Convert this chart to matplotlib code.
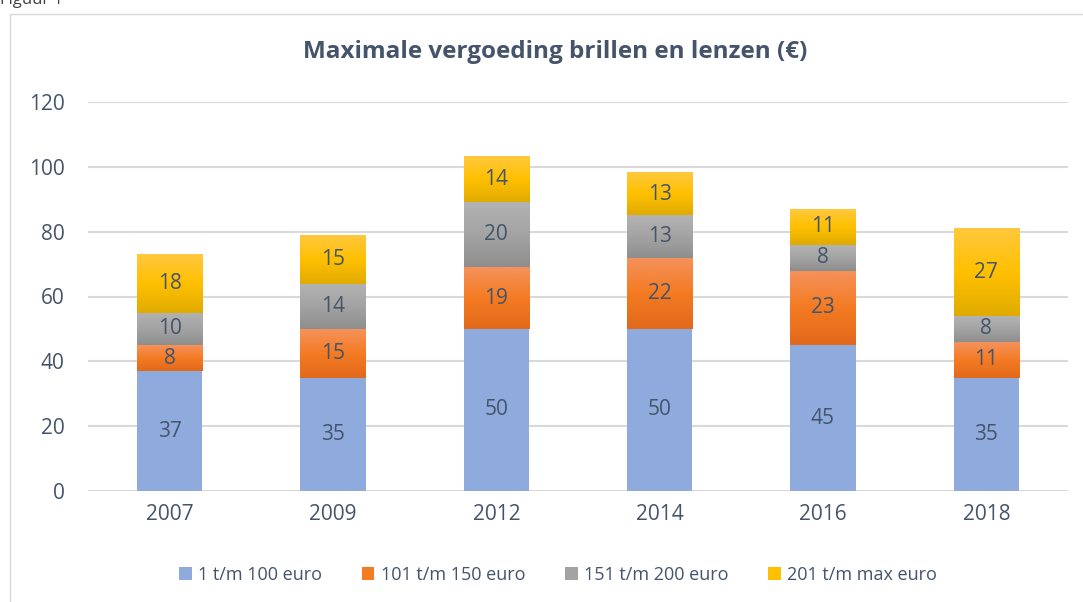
import numpy as np
import matplotlib

matplotlib.use("Agg")
import matplotlib.pyplot as plt
from matplotlib.colors import LinearSegmentedColormap
from matplotlib.patches import Rectangle

plt.rcParams["font.family"] = ["Open Sans", "DejaVu Sans"]

years = ["2007", "2009", "2012", "2014", "2016", "2018"]
series_names = ["1 t/m 100 euro", "101 t/m 150 euro", "151 t/m 200 euro", "201 t/m max euro"]
s1 = [37, 35, 50, 50, 45, 35]
s2 = [8, 15, 19, 22, 23, 11]
s3 = [10, 14, 20, 13, 8, 8]
s4 = [18, 15, 14, 13, 11, 27]
yticks = [0, 20, 40, 60, 80, 100, 120]

# gradient stops (top -> bottom); a single colour means a flat fill
fills = [
    ["#8FAADC"],
    ["#F4925C", "#F47B22", "#E2691B"],
    ["#B3B3B3", "#A3A3A3", "#8E8E8E"],
    ["#FFC83E", "#FFC000", "#E0AB00"],
]

text_color = "#44546A"

fig = plt.figure(figsize=(10.83, 6.02), dpi=100)
fig.patches.append(Rectangle((10 / 1083, -0.01), 1.0, 1 - 14 / 602 + 0.01, transform=fig.transFigure,
                             fill=False, edgecolor="#D9D9D9", linewidth=1.0))
fig.text(0.0, 1 - 4 / 602, "Figuur 1", fontsize=12, color="#404040", ha="left", va="baseline")

ax = fig.add_axes([88 / 1083, 1 - 491 / 602, 980 / 1083, 389 / 602])
x = np.arange(len(years))
width = 0.40
bottom = np.zeros(len(years))
handles = []
for vals, name, stops in zip([s1, s2, s3, s4], series_names, fills):
    mid = stops[len(stops) // 2]
    bars = ax.bar(x, vals, width, bottom=bottom, color=mid, label=name, zorder=2)
    handles.append(bars)
    if len(stops) > 1:
        cmap = LinearSegmentedColormap.from_list("g", stops[::-1])
        grad = np.linspace(0, 1, 128).reshape(-1, 1)
        for rect in bars:
            x0, y0 = rect.get_x(), rect.get_y()
            ax.imshow(grad, cmap=cmap, origin="lower", aspect="auto", zorder=2.5,
                      extent=[x0, x0 + rect.get_width(), y0, y0 + rect.get_height()])
    for xi, b, v in zip(x, bottom, vals):
        ax.text(xi, b + v / 2, str(v), ha="center", va="center", fontsize=15,
                color=text_color, zorder=4)
    bottom = bottom + np.array(vals)

ax.set_xlim(-0.5, len(years) - 0.5)
ax.set_ylim(0, 120)
ax.set_yticks(yticks)
ax.set_xticks(x)
ax.set_xticklabels(years)
ax.tick_params(axis="both", length=0, labelsize=15, labelcolor=text_color)
ax.tick_params(axis="x", pad=9)
ax.tick_params(axis="y", pad=17)
ax.yaxis.grid(True, color="#D9D9D9", linewidth=1.5, zorder=0)
ax.set_axisbelow(True)
for sp in ax.spines.values():
    sp.set_visible(False)

fig.text(555 / 1083, 1 - 52 / 602, "Maximale vergoeding brillen en lenzen (€)", ha="center", va="center",
         fontsize=17.5, fontweight="bold", color=text_color)

fig.legend(handles=handles, labels=series_names, loc="center", ncol=4,
           bbox_to_anchor=(558 / 1083, 1 - 575 / 602), frameon=False, fontsize=13,
           labelcolor=text_color, handlelength=0.7, handleheight=0.7, handletextpad=0.35,
           columnspacing=2.2)

fig.savefig("out.png", dpi=100)
